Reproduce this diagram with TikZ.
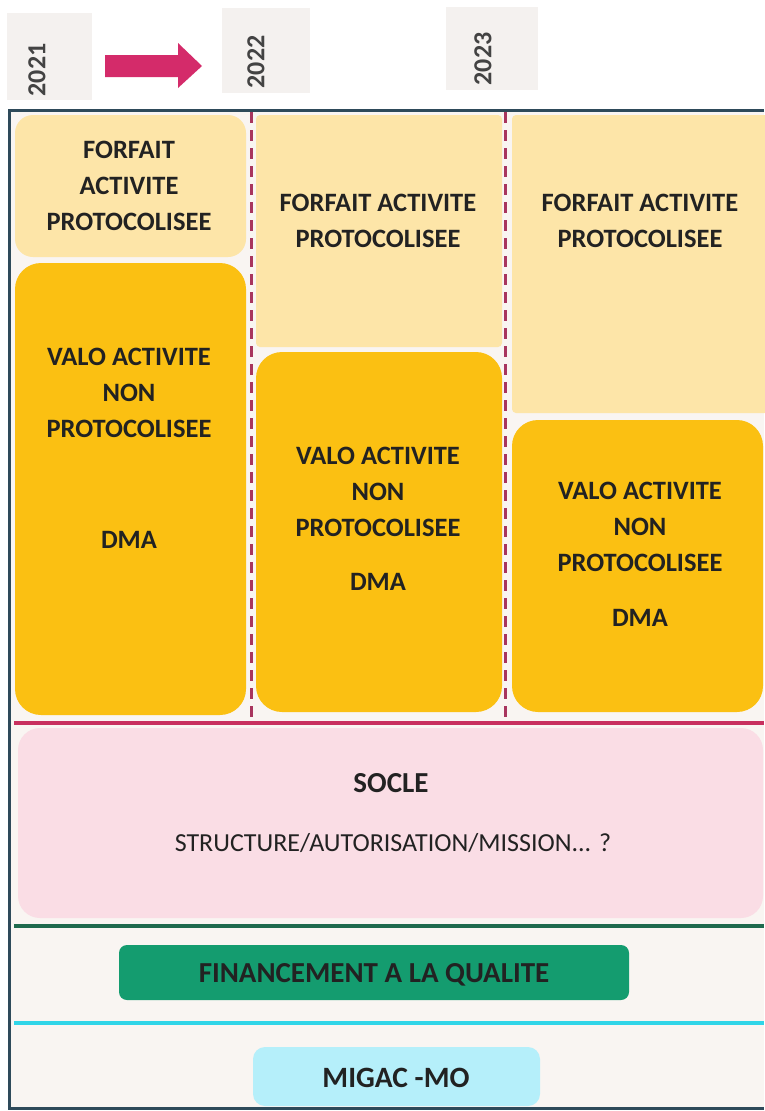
\documentclass[tikz,border=0pt]{standalone}
\usepackage{fontspec}
\setmainfont{Carlito}
\usetikzlibrary{positioning}

\definecolor{yearbg}{HTML}{F4F1EF}
\definecolor{arrowred}{HTML}{D42B6A}
\definecolor{framecol}{HTML}{2E4A5A}
\definecolor{inside}{HTML}{F9F5F2}
\definecolor{forfait}{HTML}{FDE5A8}
\definecolor{valo}{HTML}{FBC012}
\definecolor{dashcol}{HTML}{A8355E}
\definecolor{soclecol}{HTML}{FADDE5}
\definecolor{soclebar}{HTML}{C8305F}
\definecolor{qualbar}{HTML}{1F6A4E}
\definecolor{qualcol}{HTML}{149C6F}
\definecolor{migacbar}{HTML}{30D5E8}
\definecolor{migaccol}{HTML}{B5EFFA}
\definecolor{ink}{HTML}{222222}

\begin{document}
\begin{tikzpicture}[x=1pt,y=-1pt,
	boxtext/.style={text=ink,align=center,font=\bfseries\fontsize{26.5}{36}\selectfont},
	yeartext/.style={text=ink!85,rotate=90,font=\bfseries\fontsize{26}{30}\selectfont},
	forfaitbox/.style={fill=forfait,rounded corners=18pt},
	valobox/.style={fill=valo,rounded corners=26pt}]
	\useasboundingbox (0,0) rectangle (764,1111);
	% years
	\fill[yearbg] (7,13) rectangle (92,100);
	\fill[yearbg] (222,8) rectangle (310,93);
	\fill[yearbg] (446,7) rectangle (538,90);
	\node[yeartext] (y2021) at (37,70) {2021};
	\node[yeartext] (y2022) at (256,62) {2022};
	\node[yeartext] (y2023) at (483,59) {2023};
	\fill[arrowred] (105,55) -- (178,55) -- (178,43) -- (202,66) -- (178,88) -- (178,77) -- (105,77) -- cycle;
	% frame
	\fill[inside] (9,110) rectangle (764,1108);
	% boxes
	\fill[forfaitbox] (15,115) rectangle (246,257);
	\fill[valobox] (15,263) rectangle (246,715);
	\fill[forfaitbox,rounded corners=4pt] (256,115) rectangle (502,347);
	\fill[valobox] (256,352) rectangle (502,712);
	\fill[forfaitbox,rounded corners=4pt] (512,115) rectangle (790,413);
	\fill[valobox] (512,420) rectangle (763,712);
	\node[boxtext] (forfait1) at (129,186) {FORFAIT\\ACTIVITE\\PROTOCOLISEE};
	\node[boxtext] (forfait2) at (378,221) {FORFAIT ACTIVITE\\PROTOCOLISEE};
	\node[boxtext] (forfait3) at (640,221) {FORFAIT ACTIVITE\\PROTOCOLISEE};
	\node[boxtext] (valo1) at (129,393) {VALO ACTIVITE\\NON\\PROTOCOLISEE};
	\node[boxtext] (dma1) at (129,540) {DMA};
	\node[boxtext] (valo2) at (378,492) {VALO ACTIVITE\\NON\\PROTOCOLISEE};
	\node[boxtext] (dma2) at (378,582) {DMA};
	\node[boxtext] (valo3) at (640,527) {VALO ACTIVITE\\NON\\PROTOCOLISEE};
	\node[boxtext] (dma3) at (640,618) {DMA};
	\draw[dashcol,line width=3pt,dash pattern=on 11pt off 7pt] (251,112) -- (251,718);
	\draw[dashcol,line width=3pt,dash pattern=on 11pt off 7pt] (505,112) -- (505,718);
	% socle
	\draw[soclebar,line width=3.5pt] (14,723) -- (764,723);
	\fill[soclecol,rounded corners=22pt] (18,728) rectangle (763,918);
	\node[boxtext,font=\bfseries\fontsize{29}{30}\selectfont] (socle) at (391,783) {SOCLE};
	\node[text=ink,font=\fontsize{26}{30}\selectfont] (struct) at (393,843) {STRUCTURE/AUTORISATION/MISSION... ?};
	% qualite
	\draw[qualbar,line width=3.5pt] (14,926) -- (764,926);
	\fill[qualcol,rounded corners=8pt] (119,945) rectangle (629,1000);
	\node[boxtext,font=\bfseries\fontsize{29}{30}\selectfont] (qualite) at (374,975) {FINANCEMENT A LA QUALITE};
	% migac
	\draw[migacbar,line width=3.5pt] (14,1023) -- (764,1023);
	\fill[migaccol,rounded corners=12pt] (253,1047) rectangle (540,1106);
	\node[boxtext,font=\bfseries\fontsize{29.5}{30}\selectfont] (migac) at (396,1078) {MIGAC -MO};
	\draw[framecol,line width=3pt] (764,110) -- (9,110) -- (9,1108) -- (764,1108);
\end{tikzpicture}
\end{document}
